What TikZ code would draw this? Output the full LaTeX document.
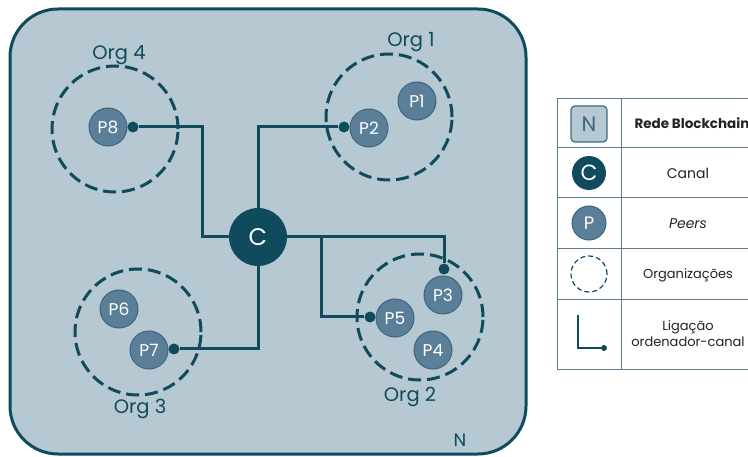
\documentclass[tikz,border=0pt]{standalone}
\usepackage{fontspec}
\setmainfont{Poppins}
\usetikzlibrary{calc}
\definecolor{bgfill}{HTML}{B6C8D2}
\definecolor{dark}{HTML}{0F4A5D}
\definecolor{peerfill}{HTML}{5B7F98}
\definecolor{peerline}{HTML}{3F667F}
\definecolor{gridline}{HTML}{5E7D8F}
\definecolor{txt}{HTML}{222222}
\definecolor{ntext}{HTML}{3A6A80}
\begin{document}
\begin{tikzpicture}[x=1pt,y=-1pt,
 peer/.style={circle,fill=peerfill,draw=peerline,line width=1pt,minimum size=38pt,inner sep=0pt,text=white,font=\fontsize{17}{17}\selectfont},
 org/.style={circle,draw=dark,dash pattern=on 13pt off 6pt,line width=3pt,minimum size=126pt,inner sep=0pt},
 dotn/.style={circle,fill=dark,minimum size=11pt,inner sep=0pt},
 link/.style={draw=dark,line width=3pt},
 orglabel/.style={text=dark,font=\fontsize{19.5}{19.5}\selectfont},
 legtext/.style={text=txt,font=\fontsize{13}{16}\selectfont,align=center},
]
\useasboundingbox (0,0) rectangle (748,457);
% network frame
\draw[fill=bgfill,draw=dark,line width=3pt,rounded corners=48pt] (10,9) rectangle (526,454);
\node[text=dark,font=\fontsize{18}{18}\selectfont] (netN) at (460,440) {N};
% organisations
\node[org] (org4) at (115,129) {};
\node[org] (org1) at (389,117) {};
\node[org] (org3) at (138,332) {};
\node[org] (org2) at (420,317) {};
\node[orglabel] (l4) at (119,55) {Org 4};
\node[orglabel] (l1) at (411,42) {Org 1};
\node[orglabel] (l3) at (140,409) {Org 3};
\node[orglabel] (l2) at (410,397) {Org 2};
% peers
\node[peer] (p8) at (108,127) {P8};
\node[peer] (p2) at (369,128) {P2};
\node[peer] (p1) at (417,101) {P1};
\node[peer] (p3) at (443,295) {P3};
\node[peer] (p5) at (395,318) {P5};
\node[peer] (p4) at (433,350) {P4};
\node[peer] (p6) at (119,309) {P6};
\node[peer] (p7) at (149,350) {P7};
% channel
\node[circle,fill=dark,minimum size=58pt,inner sep=0pt,text=white,font=\fontsize{24}{24}\selectfont] (C) at (258,237) {C};
% dots
\node[dotn] (d8) at (133,127) {};
\node[dotn] (d2) at (344,127) {};
\node[dotn] (d7) at (174,349) {};
\node[dotn] (d3) at (444,269) {};
\node[dotn] (d5) at (370,317) {};
\coordinate (j8) at (202,237);
\coordinate (j5) at (321,237);
% links
\draw[link] (d8) -| (j8) -- (C);
\draw[link] (C) |- (d2);
\draw[link] (C) |- (d7);
\draw[link] (C) -| (d3);
\draw[link] (j5) |- (d5);
% legend table
\draw[gridline,line width=1pt] (557,99) rectangle (756,370);
\draw[gridline,line width=1pt] (621,99) -- (621,370);
\foreach \yy in {148,198,249,300} \draw[gridline,line width=1pt] (557,\yy) -- (756,\yy);
\node[draw=ntext,fill=bgfill,line width=1.2pt,rounded corners=4pt,minimum size=36pt,inner sep=0pt,text=ntext,font=\fontsize{21}{21}\selectfont] (kN) at (589,124) {N};
\node[circle,fill=dark,minimum size=34pt,inner sep=0pt,text=white,font=\fontsize{22}{22}\selectfont] (kC) at (589,173) {C};
\node[circle,fill=peerfill,draw=peerline,line width=1pt,minimum size=34pt,inner sep=0pt,text=white,font=\fontsize{18}{18}\selectfont] (kP) at (589,223) {P};
\node[circle,draw=dark,dash pattern=on 5pt off 3pt,line width=1.2pt,minimum size=36pt,inner sep=0pt] (kO) at (589,274) {};
\coordinate (kLt) at (578,315);
\node[dotn,minimum size=6pt] (kLd) at (604,348) {};
\draw[draw=dark,line width=1.8pt] (kLt) |- (kLd);
\node[legtext,font=\fontsize{13.5}{16}\bfseries\selectfont] (tN) at (692,123) {Rede Blockchain};
\node[legtext,font=\fontsize{14}{16}\selectfont] (tC) at (688,173) {Canal};
\node[legtext,font=\fontsize{14}{16}\itshape\selectfont] (tP) at (688,224) {Peers};
\node[legtext] (tO) at (688,275) {Organizações};
\node[legtext] (tL) at (688,334) {Ligação\\ordenador-canal};
\end{tikzpicture}
\end{document}
